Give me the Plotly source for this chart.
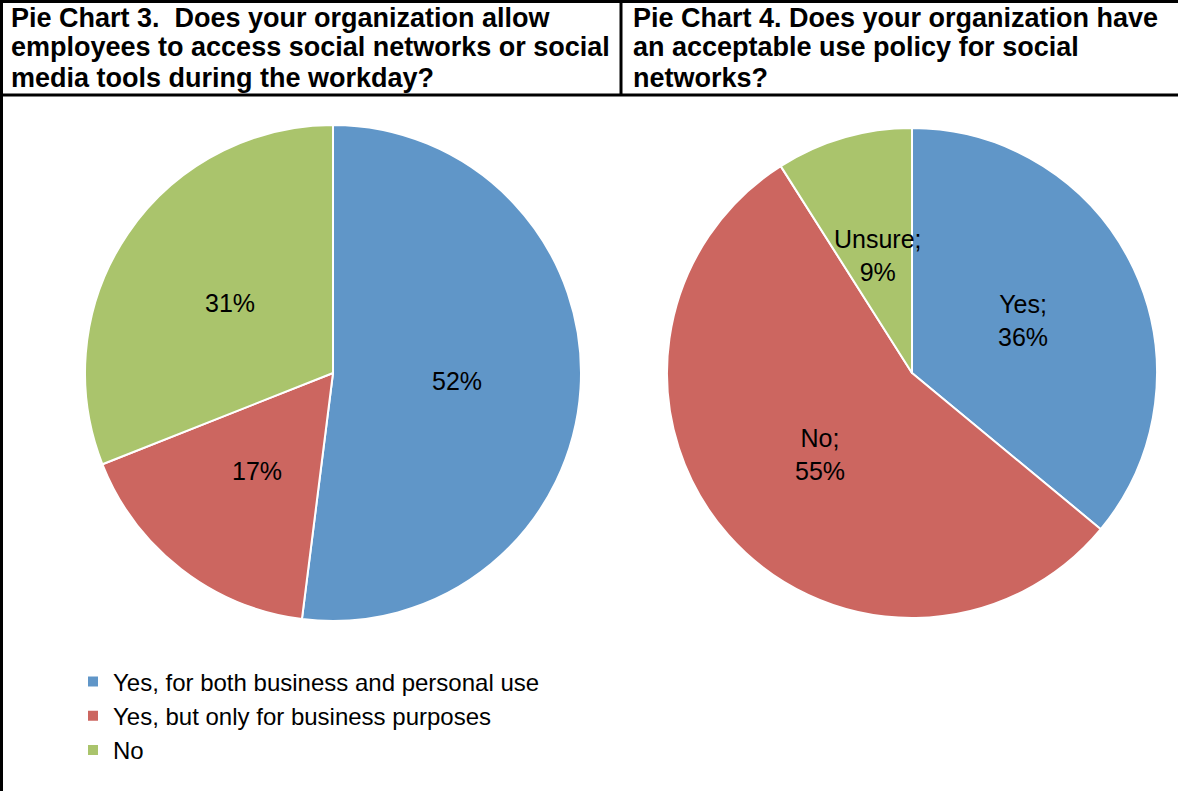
import math
import plotly.graph_objects as go

W, H = 1178, 791

# Data
pie3_labels = ["Yes, for both business and personal use", "Yes, but only for business purposes", "No"]
pie3_values = [52, 17, 31]
pie4_labels = ["Yes", "No", "Unsure"]
pie4_values = [36, 55, 9]
colors = ["#6096C8", "#CC6660", "#AAC46C"]

title3_lines = ["Pie Chart 3.  Does your organization allow",
                "employees to access social networks or social",
                "media tools during the workday?"]
title4_lines = ["Pie Chart 4. Does your organization have",
                "an acceptable use policy for social",
                "networks?"]

FONT = "Liberation Sans, Arial, sans-serif"

def px_x(v):
    return v / W

def px_y(v):
    return 1 - v / H

# pie geometry (pixels): left, right, top, bottom of the pie box
pie3_box = (85, 581, 125, 621)
pie4_box = (667, 1157, 128, 618)

fig = go.Figure()

def add_pie(labels, values, box, showlegend):
    l, r, t, b = box
    fig.add_trace(go.Pie(
        labels=labels, values=values, sort=False, direction="clockwise",
        rotation=0,
        marker=dict(colors=colors, line=dict(color="white", width=2)),
        textinfo="none",
        domain=dict(x=[px_x(l), px_x(r)], y=[px_y(b), px_y(t)]),
        hoverinfo="label+percent",
        showlegend=showlegend,
    ))

add_pie(pie3_labels, pie3_values, pie3_box, True)
add_pie(pie4_labels, pie4_values, pie4_box, False)

def add_slice_labels(labels, values, box, with_name):
    l, r, t, b = box
    cx, cy = (l + r) / 2, (t + b) / 2
    rad = min(r - l, b - t) / 2
    total = sum(values)
    start = 0.0
    for lab, v in zip(labels, values):
        mid = (start + v / 2) / total * 2 * math.pi
        start += v
        x = cx + 0.5 * rad * math.sin(mid)
        y = cy - 0.5 * rad * math.cos(mid)
        txt = f"{lab};<br>{v}%" if with_name else f"{v}%"
        fig.add_annotation(text=txt, x=px_x(x), y=px_y(y), xref="paper", yref="paper",
                           xanchor="center", yanchor="middle", showarrow=False, align="center",
                           font=dict(family=FONT, size=25, color="black"))

add_slice_labels(pie3_labels, pie3_values, pie3_box, False)
add_slice_labels(pie4_labels, pie4_values, pie4_box, True)

# Header annotations
for lines, x0 in ((title3_lines, 9), (title4_lines, 631)):
    for i, ln in enumerate(lines):
        fig.add_annotation(text="<b>" + ln + "</b>", x=px_x(x0), y=px_y(17.5 + 30 * i),
                           xref="paper", yref="paper",
                           xanchor="left", yanchor="middle", align="left", showarrow=False,
                           font=dict(family=FONT, size=27, color="black"))

# Table borders
line = dict(color="black", width=3)
fig.add_shape(type="line", xref="paper", yref="paper", x0=0, x1=1, y0=px_y(1.5), y1=px_y(1.5), line=line)
fig.add_shape(type="line", xref="paper", yref="paper", x0=0, x1=1, y0=px_y(95), y1=px_y(95), line=line)
fig.add_shape(type="line", xref="paper", yref="paper", x0=px_x(1.5), x1=px_x(1.5), y0=0, y1=1, line=line)
fig.add_shape(type="line", xref="paper", yref="paper", x0=px_x(621), x1=px_x(621), y0=px_y(95), y1=1, line=line)

fig.update_layout(
    width=W, height=H, autosize=False,
    margin=dict(l=0, r=0, t=0, b=0),
    paper_bgcolor="white", plot_bgcolor="white",
    font=dict(family=FONT, color="black"),
    legend=dict(x=px_x(73), y=px_y(716), xanchor="left", yanchor="middle",
                font=dict(family=FONT, size=24, color="black"),
                bgcolor="rgba(0,0,0,0)", itemclick=False, itemdoubleclick=False),
)

fig.write_html("out.html")
